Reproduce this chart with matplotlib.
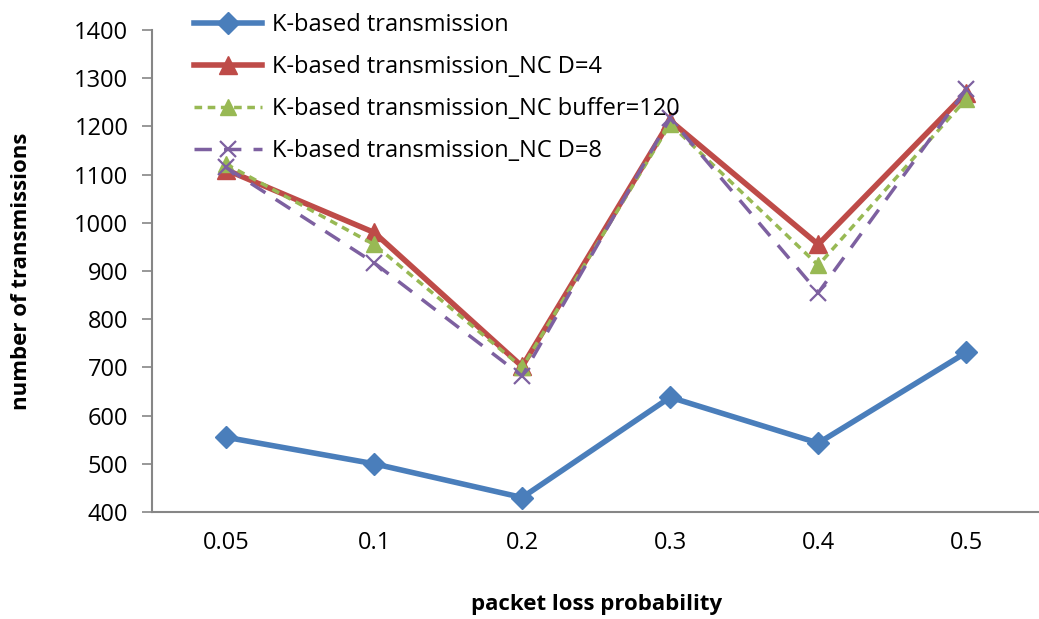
import numpy as np
from matplotlib import pyplot as plt

plt.rcParams['font.family'] = ['Open Sans', 'DejaVu Sans']

categories = ['0.05', '0.1', '0.2', '0.3', '0.4', '0.5']
k_based = [555, 500, 430, 638, 543, 731]
nc_d4 = [1110, 980, 702, 1212, 955, 1270]
nc_buf120 = [1122, 955, 700, 1205, 912, 1257]
nc_d8 = [1115, 917, 682, 1217, 855, 1277]

x = np.arange(len(categories))

fig = plt.figure(figsize=(10.39, 6.19), dpi=100)
ax = fig.add_axes([0.1463, 0.1729, 0.855, 0.7786])

ax.plot(x, k_based, color='#4A7EBB', lw=4, marker='D', ms=11,
        label='K-based transmission')
ax.plot(x, nc_d4, color='#BE4B48', lw=4, marker='^', ms=13,
        label='K-based transmission_NC D=4')
ax.plot(x, nc_buf120, color='#98B954', lw=2.5, ls=(0, (2.2, 1.6)), marker='^', ms=12,
        label='K-based transmission_NC buffer=120')
ax.plot(x, nc_d8, color='#7D60A0', lw=2.5, ls=(0, (5, 3.5)), marker='x', ms=11, mew=1.6,
        label='K-based transmission_NC D=8')

ax.set_xlim(-0.5, 5.5)
ax.set_ylim(400, 1400)
ax.set_yticks(range(400, 1401, 100))
ax.set_xticks(x)
ax.set_xticklabels(categories)
ax.tick_params(axis='x', length=0, labelsize=17, pad=14)
ax.tick_params(axis='y', length=7, width=1.2, color='#868686', labelsize=17, pad=10)

for s in ['top', 'right']:
    ax.spines[s].set_visible(False)
for s in ['left', 'bottom']:
    ax.spines[s].set_color('#868686')
    ax.spines[s].set_linewidth(1.5)

ax.set_xlabel('packet loss probability', fontsize=16, fontweight='bold', labelpad=28)
ax.set_ylabel('number of transmissions', fontsize=16, fontweight='bold', labelpad=30)

leg = fig.legend(loc='upper left', bbox_to_anchor=(0.166, 1.013), frameon=False,
                 fontsize=17, handlelength=2.9, handletextpad=0.4, labelspacing=0.76)

fig.savefig('out.png', dpi=100)
